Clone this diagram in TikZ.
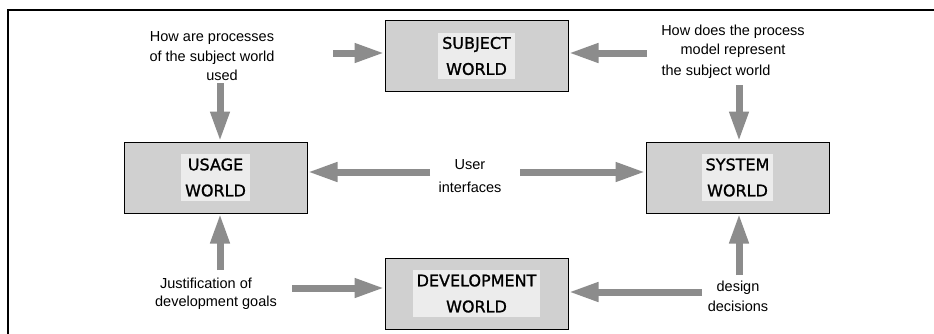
\documentclass[tikz,border=0pt]{standalone}
\usepackage{fontspec}
\setmainfont{Liberation Sans}
\newfontfamily\boxfont[FakeBold=1.2]{DejaVu Sans}
\usetikzlibrary{arrows.meta}
\definecolor{arrowgray}{RGB}{140,140,140}
\definecolor{boxgray}{RGB}{208,208,208}
\definecolor{innergray}{RGB}{236,236,236}
\tikzset{
  worldbox/.style={draw=black, line width=1pt, fill=boxgray, minimum width=183pt, minimum height=71pt, inner sep=0pt},
  worldtext/.style={fill=innergray, inner sep=4pt, align=center, font=\boxfont\fontsize{16}{26}\selectfont},
  lbl/.style={align=center, inner sep=0pt, font=\fontsize{14.5}{19.5}\selectfont},
  blockarrow/.style={draw=arrowgray, line width=7pt, -{Triangle[length=30pt,width=18pt]}}
}
\begin{document}
\begin{tikzpicture}[x=1pt,y=-1pt]
\useasboundingbox (0,0) rectangle (934,333);
% frame
\draw[line width=2.5pt] (8,334) -- (8,10) -- (935,10);
% boxes
\node[worldbox] (subject) at (476.5,56) {};
\node[worldtext] (subjectt) at (subject) {SUBJECT\\WORLD};
\node[worldbox] (usage) at (215.5,177.5) {};
\node[worldtext] (usaget) at (usage) {USAGE\\WORLD};
\node[worldbox] (system) at (737.5,177.5) {};
\node[worldtext] (systemt) at (system) {SYSTEM\\WORLD};
\node[worldbox] (dev) at (476.5,293.5) {};
\node[worldtext] (devt) at (dev) {DEVELOPMENT\\WORLD};
% labels
\node[lbl] (la) at (212,56.5) {How are processes\\of the subject world\\\hspace*{20pt}used};
\node[lbl] (lb1) at (733,41) {How does the process\\model represent};
\node[lbl] (lb2) at (716,72) {the subject world};
\node[lbl, font=\fontsize{14.5}{23}\selectfont] (lu) at (470,176.5) {User\\interfaces};
\node[lbl] (lj1) at (206,283) {Justification of};
\node[lbl] (lj2) at (216,303) {development goals};
\node[lbl] (ld) at (738,296.5) {design\\decisions};
% arrow start points
\coordinate (a1) at (220,83);
\coordinate (a2) at (333,53);
\coordinate (a3) at (647,53);
\coordinate (a4) at (739,85);
\coordinate (a5l) at (430,172);
\coordinate (a5r) at (520,172);
\coordinate (a6) at (220,270);
\coordinate (a7) at (292,288);
\coordinate (a8) at (702,292);
\coordinate (a9) at (739,275);
% arrows
\draw[blockarrow] (a1) -- (a1 |- usage.north);
\draw[blockarrow] (a2) -- (a2 -| subject.west);
\draw[blockarrow] (a3) -- (a3 -| subject.east);
\draw[blockarrow] (a4) -- (a4 |- system.north);
\draw[blockarrow] (a5l) -- (a5l -| usage.east);
\draw[blockarrow] (a5r) -- (a5r -| system.west);
\draw[blockarrow] (a6) -- (a6 |- usage.south);
\draw[blockarrow] (a7) -- (a7 -| dev.west);
\draw[blockarrow] (a8) -- (a8 -| dev.east);
\draw[blockarrow] (a9) -- (a9 |- system.south);
\end{tikzpicture}
\end{document}
